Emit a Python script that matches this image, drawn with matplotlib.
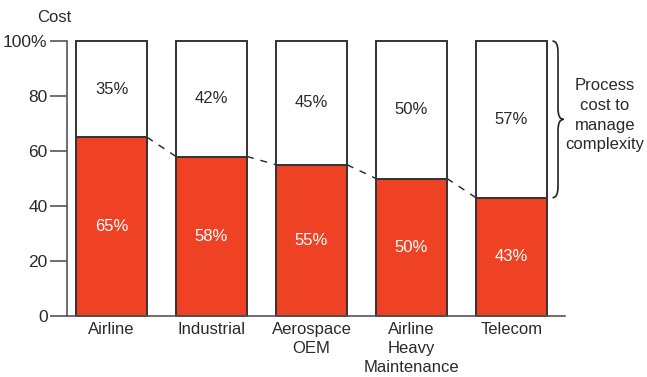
import numpy as np
import matplotlib
matplotlib.use("Agg")
import matplotlib.pyplot as plt
from matplotlib.path import Path
from matplotlib.patches import PathPatch

categories = ["Airline", "Industrial", "Aerospace\nOEM", "Airline\nHeavy\nMaintenance", "Telecom"]
base_cost = [65, 58, 55, 50, 43]
process_cost = [35, 42, 45, 50, 57]
y_ticks = [0, 20, 40, 60, 80, 100]
y_tick_labels = ["0", "20", "40", "60", "80", "100%"]

red = "#EF4124"
edge = "#333333"
txt = "#2a2a2a"
plt.rcParams['font.family'] = ['Liberation Sans', 'DejaVu Sans']

fig = plt.figure(figsize=(6.47, 3.77), dpi=100)
ax = fig.add_axes([67 / 647, 1 - 316 / 377, (565 - 67) / 647, (316 - 41) / 377])

x = np.arange(len(categories))
w = 0.71
ax.bar(x, base_cost, width=w, color=red, edgecolor=edge, linewidth=1.4, clip_on=False, zorder=2)
ax.bar(x, process_cost, width=w, bottom=base_cost, color="white", edgecolor=edge,
       linewidth=1.4, clip_on=False, zorder=2)

for i in range(len(x)):
    ax.text(x[i], base_cost[i] / 2, f"{base_cost[i]}%", color="white", ha="center", va="center", fontsize=12)
    ax.text(x[i], base_cost[i] + process_cost[i] / 2, f"{process_cost[i]}%", color=txt,
            ha="center", va="center", fontsize=12)

# dashed connectors between red tops
for i in range(len(x) - 1):
    ax.plot([x[i] + w / 2, x[i + 1] - w / 2], [base_cost[i], base_cost[i + 1]],
            color="#222222", lw=1.0, ls=(0, (5, 5)), zorder=1)

ax.set_xlim(-0.445, 4.535)
ax.set_ylim(0, 100)
ax.set_yticks(y_ticks)
ax.set_yticklabels(y_tick_labels, fontsize=12.5, color=txt)
ax.set_xticks(x)
ax.set_xticklabels(categories, fontsize=12, color=txt, linespacing=1.35)
ax.tick_params(axis="x", length=0, pad=4)
ax.tick_params(axis="y", length=12, width=1.2, color="#555555", pad=2)
for s in ["top", "right"]:
    ax.spines[s].set_visible(False)
ax.spines["left"].set_color("#555555")
ax.spines["bottom"].set_color("#555555")
ax.spines["left"].set_linewidth(1.2)
ax.spines["bottom"].set_linewidth(1.2)

fig.text(54 / 647, 1 - 17 / 377, "Cost", ha="center", va="center", fontsize=12, color=txt)

# curly brace on the right, spanning the white part of the last bar
top = 100
bot = base_cost[-1]
xb = 4.41
mid = (top + bot) / 2
dx = 0.055
verts = [(xb, top), (xb + dx, top), (xb + dx, top - 4), (xb + dx, top - 8),
         (xb + dx, mid + 4), (xb + dx, mid), (xb + 2 * dx, mid),
         (xb + dx, mid), (xb + dx, mid - 4), (xb + dx, bot + 8),
         (xb + dx, bot + 4), (xb + dx, bot), (xb, bot)]
codes = [Path.MOVETO, Path.CURVE3, Path.CURVE3, Path.LINETO,
         Path.LINETO, Path.CURVE3, Path.CURVE3,
         Path.CURVE3, Path.CURVE3, Path.LINETO,
         Path.LINETO, Path.CURVE3, Path.CURVE3]
ax.add_patch(PathPatch(Path(verts, codes), fill=False, edgecolor="#222222", lw=1.2,
                       clip_on=False, zorder=3))
ax.text(4.935, mid + 1.5, "Process\ncost to\nmanage\ncomplexity", ha="center", va="center",
        fontsize=12, color=txt, linespacing=1.4, clip_on=False)

fig.savefig("out.png", dpi=100)
